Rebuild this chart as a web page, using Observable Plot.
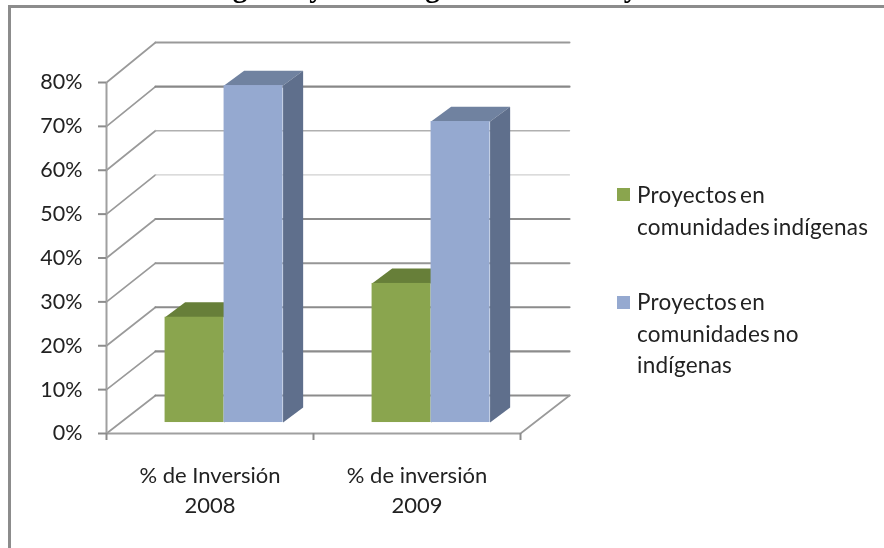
<!DOCTYPE html>
<html lang="es">
<head>
<meta charset="utf-8">
<title>Inversión</title>
<script src="https://cdn.jsdelivr.net/npm/d3@7"></script>
<script src="https://cdn.jsdelivr.net/npm/@observablehq/plot@0.6"></script>
<style>
html,body{margin:0;padding:0;width:884px;height:548px;overflow:hidden;background:#fff}
#page{position:relative;width:884px;height:548px;overflow:hidden;filter:blur(0.45px);font-family:Lato,sans-serif;color:#222}
#page svg{position:absolute;left:0;top:0}
#frame{position:absolute;left:8px;top:5px;width:960px;height:640px;border:3px solid #8c8c8c;box-sizing:border-box}
#title{position:absolute;left:20px;top:-29px;white-space:nowrap;font:bold 29px/32px "Liberation Serif",serif;color:#000}
.lg{position:absolute;left:637px;font-size:22.5px;line-height:31.5px;white-space:nowrap;word-spacing:-3px;letter-spacing:0.25px}
.sw{position:absolute;left:617px;width:13px;height:13px}
</style>
</head>
<body>
<div id="page">
<div id="title"></div>
<div id="frame"></div>
</div>
<script>
const titleText = "Inversión en Indígenas y No Indígenas de los Proyectos";
const categories = ["% de Inversión\n2008", "% de inversión\n2009"];
const seriesNames = ["Proyectos en\ncomunidades indígenas", "Proyectos en\ncomunidades no\nindígenas"];
const indigenas = [24, 31.7];
const noIndigenas = [76.8, 68.6];
const yTicks = [0, 10, 20, 30, 40, 50, 60, 70, 80];
const gridColors = ["#8c8c8c","#8c8c8c","#8c8c8c","#969696","#8c8c8c","#d0d0d0","#b0b0b0","#888888","#999999"];
const gridWidths = [2.2,2.2,2.2,2,2.2,1.2,1.4,2.2,2];
const frontColors = ["#8aa54e", "#95a9d0"];
const topColors = ["#677f39", "#7082a0"];
const sideColors = ["#677f39", "#5f6f8c"];

// Depth of the 3D room and of the bars, in axis units
const wallX = 0.2367, wallY = 8.66, wallStretch = 1.0057;
const offX = 0.068, offY = 2.5;
const depthX = 0.097, depthY = 3.4;
const barW = 0.285;

const diagRows = yTicks.flatMap((v, k) => [
  {k, x: 0, y: v},
  {k, x: wallX, y: v * wallStretch + wallY}
]);
const backRows = yTicks.flatMap((v, k) => [
  {k, x: wallX, y: v * wallStretch + wallY},
  {k, x: 2 + wallX, y: v * wallStretch + wallY}
]);
const floorEdge = [{x: 2, y: 0}, {x: 2 + wallX, y: wallY}];

const series = [indigenas, noIndigenas];
const fronts = [], tops = [], sides = [];
series.forEach((vals, s) => vals.forEach((v, i) => {
  const x1 = i + 0.5 + offX + (s - 1) * barW, x2 = x1 + barW;
  const y1 = offY, y2 = v + offY;
  const id = s + "-" + i;
  fronts.push({s, x1, x2, y1, y2});
  tops.push(
    {id, s, x: x1, y: y2},
    {id, s, x: x1 + depthX, y: y2 + depthY},
    {id, s, x: x2 + depthX, y: y2 + depthY},
    {id, s, x: x2, y: y2}
  );
  sides.push(
    {id, s, x: x2, y: y1},
    {id, s, x: x2 + depthX, y: y1 + depthY},
    {id, s, x: x2 + depthX, y: y2 + depthY},
    {id, s, x: x2, y: y2}
  );
}));
const polyMark = (rows, colors) => colors.map((c, s) =>
  Plot.line(rows.filter(r => r.s === s), {x: "x", y: "y", z: "id", fill: c, stroke: "none"}));

const plot = Plot.plot({
  width: 884, height: 548,
  marginLeft: 106, marginRight: 364, marginTop: 82, marginBottom: 115,
  x: {domain: [0, 2]},
  y: {domain: [0, 80]},
  style: {background: "transparent", fontFamily: "Lato, sans-serif"},
  marks: [
    Plot.line(diagRows, {x: "x", y: "y", z: "k", stroke: "#9a9a9a", strokeWidth: 1.7}),
    yTicks.map((v, k) => Plot.line(backRows.filter(r => r.k === k), {x: "x", y: "y", stroke: gridColors[k], strokeWidth: gridWidths[k]})),
    Plot.line(floorEdge, {x: "x", y: "y", stroke: "#9a9a9a", strokeWidth: 1.7}),
    Plot.ruleX([0], {y1: 0, y2: 80, stroke: "#a0a0a0", strokeWidth: 2}),
    Plot.ruleY([0], {x1: 0, x2: 2, stroke: "#a0a0a0", strokeWidth: 2}),
    Plot.axisY({ticks: yTicks, tickSize: 8, tickPadding: 16, stroke: "#8c8c8c", strokeWidth: 2, fill: "#222", fontSize: 21.5, tickFormat: d => d + "%", label: null}),
    Plot.axisX({ticks: [0, 1, 2], tickSize: 7, tickFormat: () => "", stroke: "#8c8c8c", strokeWidth: 2, label: null}),
    Plot.axisX({ticks: [0.5, 1.5], tickSize: 0, tickPadding: 28, fill: "#222", fontSize: 22, lineHeight: 1.38, tickFormat: d => categories[Math.floor(d)], label: null}),
    polyMark(tops, topColors),
    polyMark(sides, sideColors),
    frontColors.map((c, s) => Plot.rect(fronts.filter(r => r.s === s), {x1: "x1", x2: "x2", y1: "y1", y2: "y2", fill: c}))
  ]
});

const page = document.getElementById("page");
page.insertBefore(plot, page.firstChild);
document.getElementById("title").textContent = titleText;

const legendTops = [179, 286];
const swatchTops = [188, 296];
seriesNames.forEach((name, s) => {
  const sw = document.createElement("div");
  sw.className = "sw"; sw.style.top = swatchTops[s] + "px"; sw.style.background = frontColors[s];
  page.appendChild(sw);
  const t = document.createElement("div");
  t.className = "lg"; t.style.top = legendTops[s] + "px"; t.innerHTML = name.split("\n").join("<br>");
  page.appendChild(t);
});
</script>
</body>
</html>
